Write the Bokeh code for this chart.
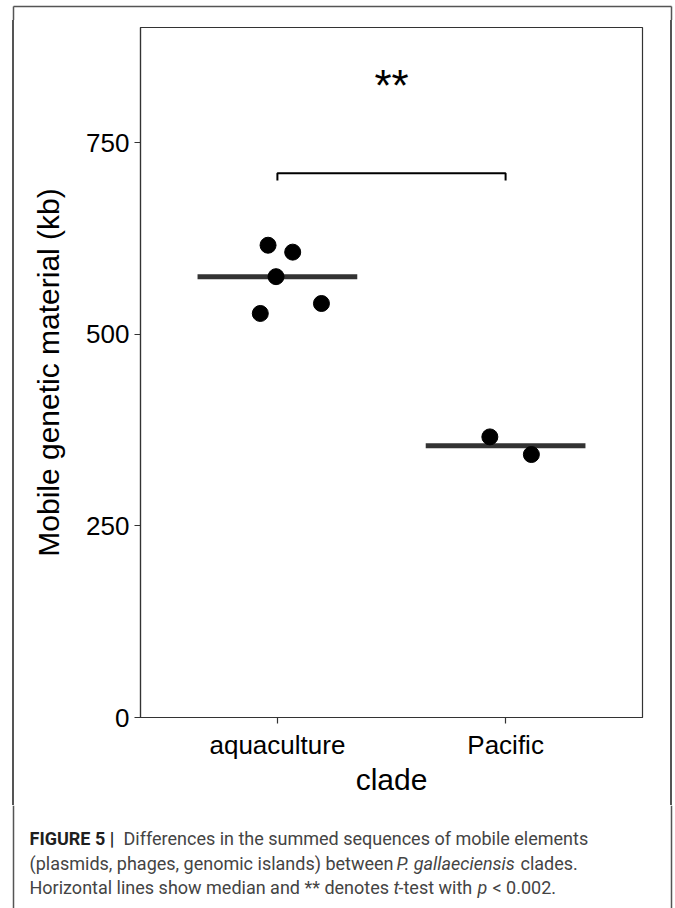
import numpy as np
from bokeh.plotting import figure
from bokeh.layouts import column, row
from bokeh.models import Range1d, FixedTicker, Label, Div
from bokeh.embed import file_html
from bokeh.resources import INLINE

# ---------------- data ----------------
categories = ["aquaculture", "Pacific"]
aquaculture_kb = [616, 607, 575, 527, 540]
aquaculture_jitter = [-0.041, 0.067, -0.006, -0.075, 0.193]
pacific_kb = [366, 343]
pacific_jitter = [-0.069, 0.113]
y_ticks = [0, 250, 500, 750]
signif_label = "**"
bracket_y = 710
bracket_tip = 9.5
star_y = 824

caption_lines = [
    [("FIGURE 5 |", "bold"), ("Differences in the summed sequences of mobile elements", "normal")],
    [("(plasmids, phages, genomic islands) between", "normal"), ("P. gallaeciensis", "italic"), ("clades.", "normal")],
    [("Horizontal lines show median and ** denotes", "normal"), ("t", "italic"), ("-test with", "normal"),
     ("p", "italic"), ("< 0.002.", "normal")],
]

# ---------------- page geometry (pixels) ----------------
W, H = 675, 908
TOP_H = 20          # top strip
SIDE_W = 20         # side strips
MID_H = 785         # chart row height  (20 .. 805)
CAP_H = H - TOP_H - MID_H
BOX_L, BOX_R, BOX_T = 13, 671, 6
BOX_COLOR, BOX_W = "#555555", 1.5


def deco_fig(w, h):
    f = figure(width=w, height=h, x_range=Range1d(0, w), y_range=Range1d(h, 0),
               min_border=0, toolbar_location=None, output_backend="svg",
               x_axis_location=None, y_axis_location=None)
    f.xgrid.visible = False
    f.ygrid.visible = False
    f.outline_line_color = None
    f.background_fill_color = "white"
    f.border_fill_color = "white"
    return f


def side_strip(line_x):
    a = line_x - BOX_W / 2
    b = line_x + BOX_W / 2
    grad = (f"linear-gradient(to right, white {a}px, {BOX_COLOR} {a}px, "
            f"{BOX_COLOR} {b}px, white {b}px)")
    return Div(text="", width=SIDE_W, height=MID_H, margin=0,
               styles={"background": grad, "padding": "0px"})


# top strip: top edge of outer frame
top = deco_fig(W, TOP_H)
top.segment(x0=[BOX_L, BOX_L, BOX_R], y0=[BOX_T, BOX_T, BOX_T],
            x1=[BOX_R, BOX_L, BOX_R], y1=[BOX_T, TOP_H, TOP_H],
            line_color=BOX_COLOR, line_width=BOX_W)

left = side_strip(BOX_L)
right = side_strip(BOX_R - (W - SIDE_W))

# ---------------- main chart ----------------
FL, FR, FT, FB = 140, 642, 27, 717   # frame edges in page pixels
p = figure(width=W - 2 * SIDE_W, height=MID_H, output_backend="svg", toolbar_location=None,
           x_range=Range1d(0.4, 2.6), y_range=Range1d(0, 900),
           min_border_left=FL - SIDE_W, min_border_right=(W - SIDE_W) - FR,
           min_border_top=FT - TOP_H, min_border_bottom=(TOP_H + MID_H) - FB)
p.xgrid.visible = False
p.ygrid.visible = False
p.outline_line_color = "#333333"
p.outline_line_width = 1.2
p.background_fill_color = "white"
p.border_fill_color = "white"

font = "Liberation Sans"
for ax in (p.xaxis[0], p.yaxis[0]):
    ax.axis_line_color = "#333333"
    ax.axis_line_width = 1.2
    ax.major_tick_line_color = "#333333"
    ax.major_tick_line_width = 1.2
    ax.major_tick_out = 6
    ax.major_tick_in = 0
    ax.minor_tick_line_color = None
    ax.major_label_text_font = font
    ax.major_label_text_font_size = "26px"
    ax.major_label_text_color = "black"
    ax.axis_label_text_font = font
    ax.axis_label_text_font_size = "30px"
    ax.axis_label_text_font_style = "normal"
    ax.axis_label_text_color = "black"

p.xaxis.ticker = FixedTicker(ticks=[i + 1 for i in range(len(categories))])
p.xaxis.major_label_overrides = {i + 1: c for i, c in enumerate(categories)}
p.xaxis.axis_label = "clade"
p.xaxis.major_label_standoff = 6
p.xaxis.axis_label_standoff = 0

p.yaxis.ticker = FixedTicker(ticks=y_ticks)
p.yaxis.axis_label = "Mobile genetic material (kb)"
p.yaxis.major_label_standoff = 5
p.yaxis.axis_label_standoff = 18

groups = [aquaculture_kb, pacific_kb]
jit = [aquaculture_jitter, pacific_jitter]
for i, (vals, j) in enumerate(zip(groups, jit)):
    c = i + 1
    med = float(np.median(vals))
    p.segment(x0=[c - 0.35], y0=[med], x1=[c + 0.35], y1=[med],
              line_color="#333333", line_width=5)
    p.scatter(x=[c + d for d in j], y=vals, size=16, color="black", marker="circle")

# significance bracket
p.line(x=[1, 1, 2, 2], y=[bracket_y - bracket_tip, bracket_y, bracket_y, bracket_y - bracket_tip],
       line_color="black", line_width=2)
p.add_layout(Label(x=1.5, y=star_y, text=signif_label, text_align="center", text_baseline="middle",
                   text_font=font, text_font_size="44px", text_color="black"))

# ---------------- caption ----------------
cap = deco_fig(W, CAP_H)
cap.segment(x0=[BOX_L, BOX_R], y0=[0, 0], x1=[BOX_L, BOX_R], y1=[CAP_H, CAP_H],
            line_color=BOX_COLOR, line_width=BOX_W)
cap_top = TOP_H + MID_H
line_y = [838, 863, 887]
run_x = [
    [29, 123],
    [29, 396, 520],
    [29, 393, 398, 477, 492],
]
for li, runs in enumerate(caption_lines):
    for ri, (txt, style) in enumerate(runs):
        cap.add_layout(Label(x=run_x[li][ri], y=line_y[li] - cap_top, text=txt,
                             text_align="left", text_baseline="middle",
                             text_font="Roboto", text_font_size="18px",
                             text_font_style=style,
                             text_color="#1f1f1f" if style == "bold" else "#444444"))

layout = column(top, row(left, p, right), cap)
open("out.html", "w").write(file_html(layout, INLINE))
